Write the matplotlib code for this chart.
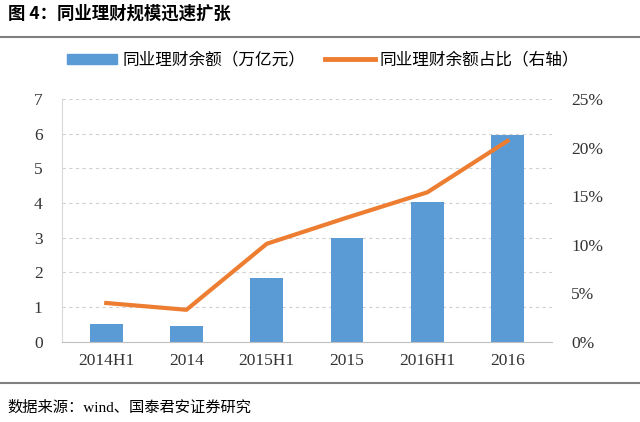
import matplotlib.pyplot as plt
from matplotlib.patches import Patch
from matplotlib.lines import Line2D
from matplotlib.ticker import FuncFormatter

plt.rcParams['font.family'] = ['Liberation Serif', 'Noto Sans CJK SC']

categories = ["2014H1", "2014", "2015H1", "2015", "2016H1", "2016"]
balance = [0.50, 0.46, 1.85, 3.0, 4.02, 5.98]          # 万亿元
share = [4.0, 3.3, 10.1, 12.8, 15.4, 20.7]              # %

blue = "#5B9BD5"
orange = "#ED7D31"

fig = plt.figure(figsize=(6.4, 4.22), dpi=100)
ax = fig.add_axes([0.097, 0.19, 0.765, 0.575])
ax2 = ax.twinx()

x = range(len(categories))
ax.bar(x, balance, width=0.41, color=blue, zorder=2)
ax2.plot(x, share, color=orange, linewidth=3, zorder=3)

ax.set_ylim(0, 7)
ax.set_yticks(range(8))
ax2.set_ylim(0, 25)
ax2.set_yticks(range(0, 26, 5))
ax2.yaxis.set_major_formatter(FuncFormatter(lambda v, p: f"{v:.0f}%"))
ax.set_xlim(-0.55, 5.55)
ax.set_xticks(list(x))
ax.set_xticklabels(categories)

ax.grid(axis='y', linestyle=(0, (3, 3)), color="#d0d0d0", linewidth=0.8, zorder=0)
ax.set_axisbelow(True)
for a in (ax, ax2):
    a.spines['top'].set_visible(False)
    a.spines['right'].set_visible(False)
    a.tick_params(length=0, labelsize=12.5, colors="#333333")
ax2.spines['left'].set_visible(False)
ax2.spines['bottom'].set_visible(False)
ax.spines['left'].set_color("#d9d9d9")
ax.spines['bottom'].set_color("#bfbfbf")
ax.tick_params(axis='y', pad=14)
ax.tick_params(axis='x', pad=8)
ax2.tick_params(axis='y', pad=14)

handles = [Patch(color=blue, label="同业理财余额（万亿元）"),
           Line2D([0], [0], color=orange, linewidth=3.5, label="同业理财余额占比（右轴）")]
fig.legend(handles=handles, loc='center', bbox_to_anchor=(0.505, 0.857), ncol=2,
           frameon=False, prop={'family': ['Noto Sans CJK SC'], 'size': 12},
           handlelength=3.0, handleheight=0.6, columnspacing=1.2, handletextpad=0.3)

fig.text(0.012, 0.967, "图 4：同业理财规模迅速扩张", ha='left', va='center',
         fontsize=12.5, fontweight='bold', family=['Noto Sans CJK SC'])
fig.add_artist(Line2D([0, 1], [0.912, 0.912], color="#808080", linewidth=1.5))
fig.add_artist(Line2D([0, 1], [0.093, 0.093], color="#808080", linewidth=1.5))
fig.text(0.012, 0.033, "数据来源：wind、国泰君安证券研究", ha='left', va='center',
         fontsize=11, family=['Liberation Serif', 'Noto Sans CJK SC'])

fig.savefig("out.png", dpi=100)
